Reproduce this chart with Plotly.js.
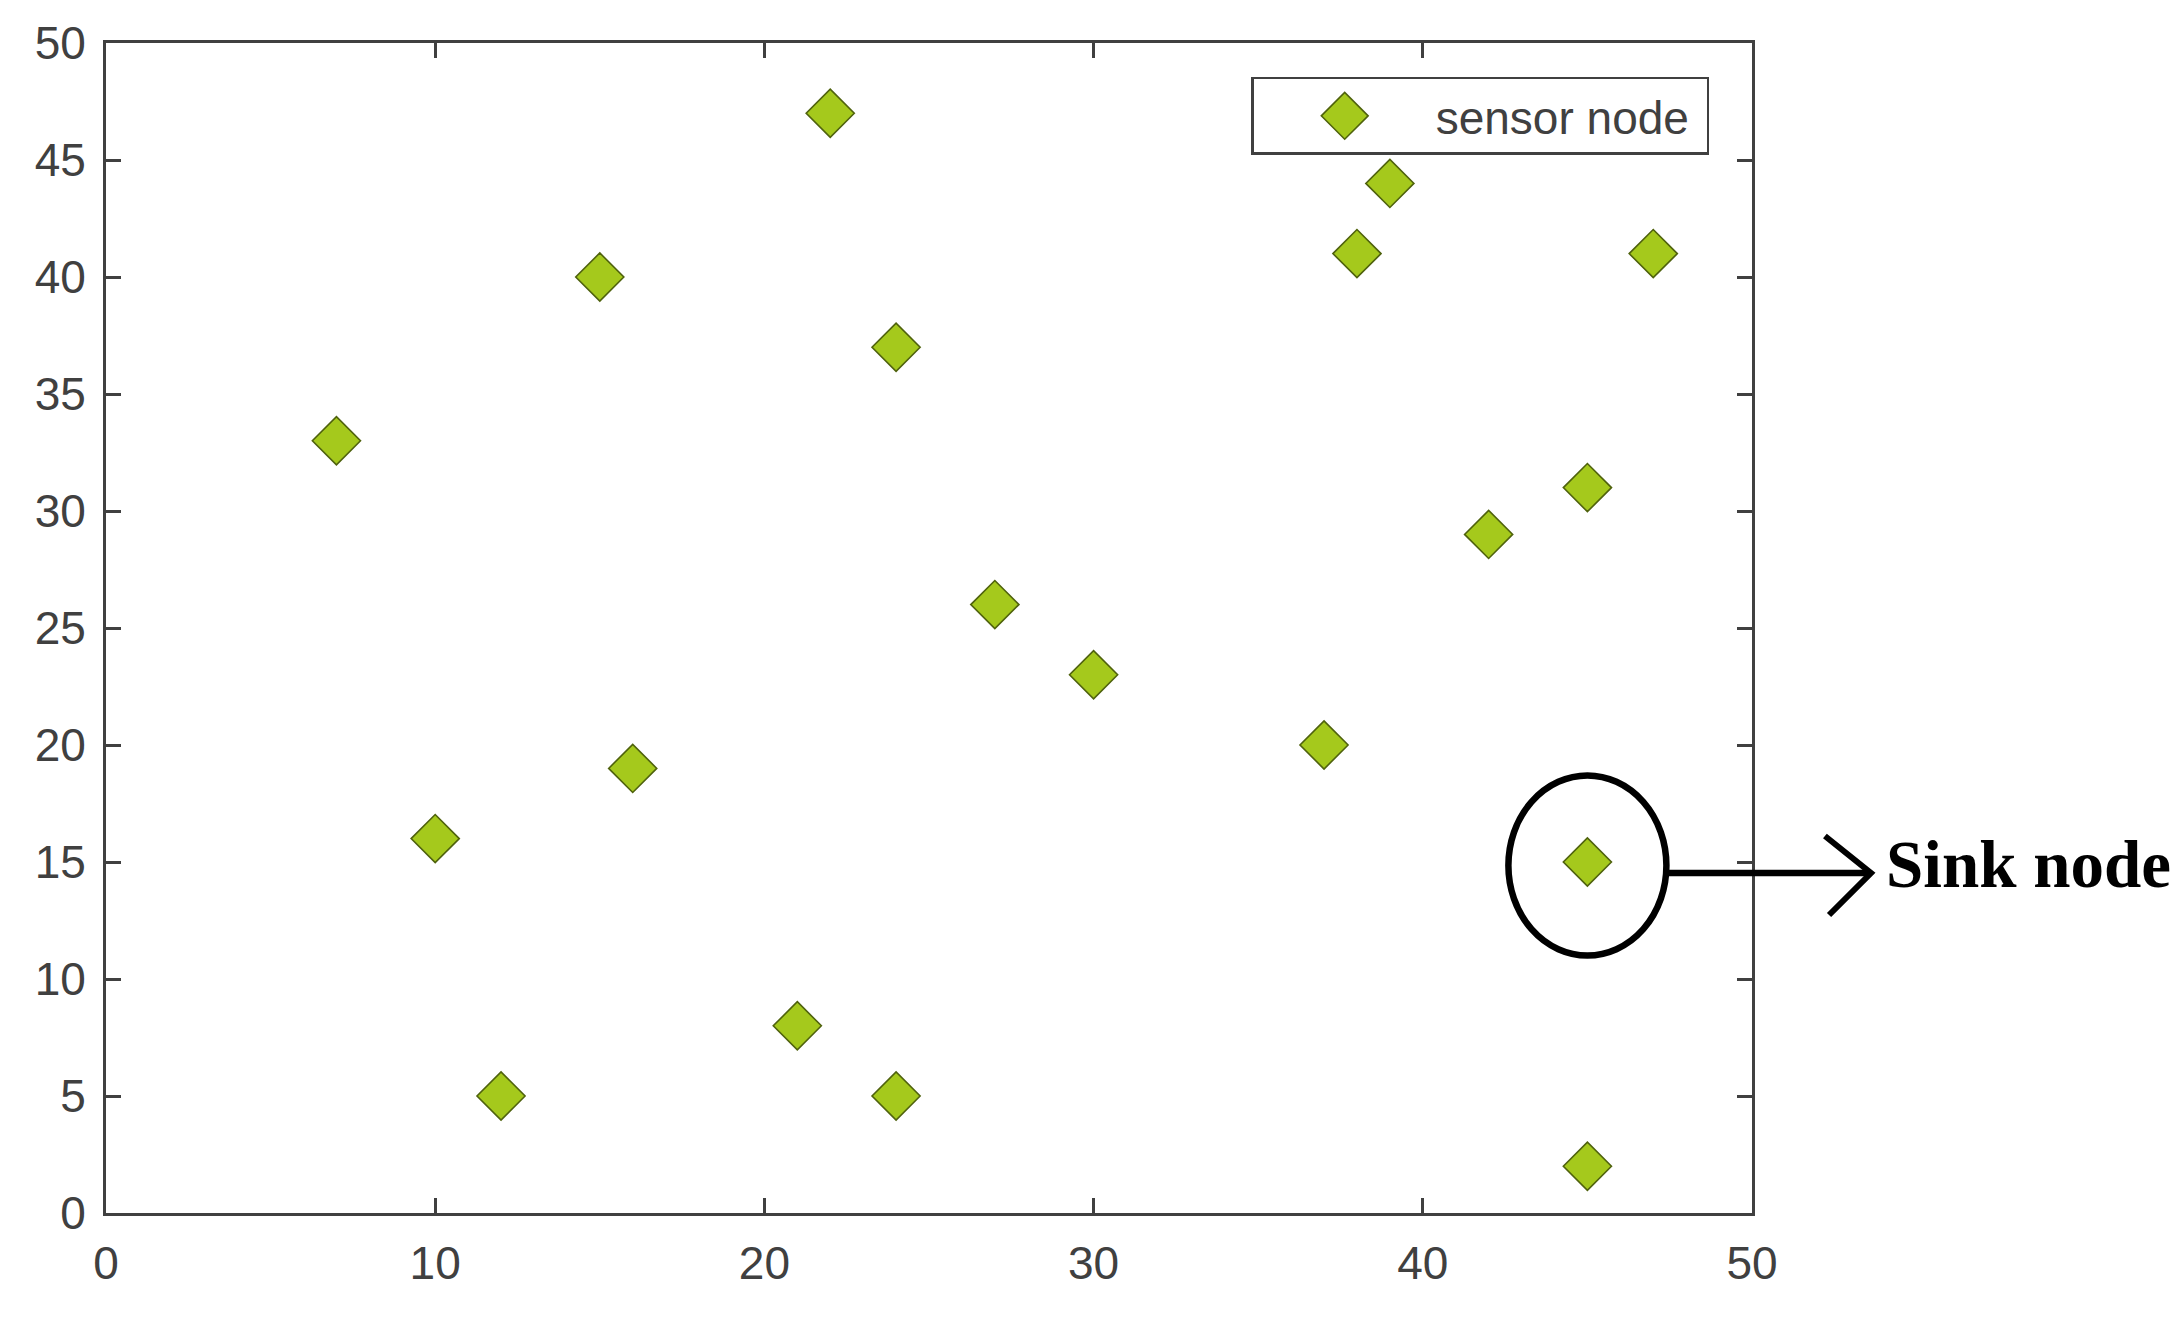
<!DOCTYPE html>
<html>
<head>
<meta charset="utf-8">
<script src="https://cdn.plot.ly/plotly-3.0.1.min.js"></script>
<style>
  body { margin: 0; background: #fff; }
  #nodePlot { width: 2184px; height: 1323px; }
</style>
</head>
<body>
<div id="nodePlot"></div>
<script>
// node positions
var nodeX = [7, 10, 12, 15, 16, 21, 22, 24, 24, 27, 30, 37, 38, 39, 42, 45, 45, 45, 47];
var nodeY = [33, 16, 5, 40, 19, 8, 47, 37, 5, 26, 23, 20, 41, 44, 29, 31, 15, 2, 41];
var sinkX = 45;
var sinkY = 15;

var axisColor = '#404040';

var trace1 = {
  x: nodeX,
  y: nodeY,
  mode: 'markers',
  type: 'scatter',
  name: 'sensor node\u00a0',
  marker: {
    symbol: 'diamond',
    size: 37,
    color: '#a5c91c',
    line: { color: '#4f620d', width: 1.6 }
  }
};

var axisStyle = {
  range: [0, 50],
  showgrid: false,
  zeroline: false,
  showline: true,
  linewidth: 3,
  linecolor: axisColor,
  mirror: 'ticks',
  ticks: 'inside',
  ticklen: 15,
  tickwidth: 3,
  tickcolor: axisColor,
  tickfont: { family: 'Liberation Sans, Arial, sans-serif', size: 46, color: axisColor },
  fixedrange: true
};

var layout = {
  width: 2184,
  height: 1323,
  margin: { l: 106, r: 432, t: 43, b: 110 },
  paper_bgcolor: '#fff',
  plot_bgcolor: '#fff',
  xaxis: Object.assign({}, axisStyle, { dtick: 10, tick0: 0, ticklabelstandoff: 8 }),
  yaxis: Object.assign({}, axisStyle, { dtick: 5, tick0: 0, ticklabelstandoff: 8 }),
  showlegend: true,
  legend: {
    x: 0.974, xanchor: 'right',
    y: 0.971, yanchor: 'top',
    bordercolor: axisColor,
    borderwidth: 2.5,
    bgcolor: '#fff',
    itemwidth: 172,
    font: { family: 'Liberation Sans, Arial, sans-serif', size: 46, color: axisColor }
  },
  shapes: [
    // circle round the sink node
    { type: 'circle', xref: 'x', yref: 'y',
      x0: sinkX - 2.4, x1: sinkX + 2.4, y0: sinkY - 4.0, y1: sinkY + 3.7,
      line: { color: '#000', width: 6.5 } },
    // arrow to the label
    { type: 'line', xref: 'paper', yref: 'paper',
      x0: 0.946, x1: 1.072, y0: 0.2906, y1: 0.2906,
      line: { color: '#000', width: 6.5 } },
    { type: 'path', xref: 'paper', yref: 'paper',
      path: 'M 1.0443 0.3222 L 1.0723 0.2906 L 1.0468 0.2547',
      line: { color: '#000', width: 6 } }
  ],
  annotations: [
    { text: '<b>Sink node</b>', xref: 'paper', yref: 'paper',
      x: 1.08, y: 0.298, xanchor: 'left', yanchor: 'middle',
      showarrow: false,
      font: { family: 'Liberation Serif, Times New Roman, serif', size: 67, color: '#000' } }
  ]
};

Plotly.newPlot('nodePlot', [trace1], layout, { staticPlot: true }).then(function() {
  // plotly caps legend symbols at 16px, the picture has a full size one
  document.querySelectorAll('#nodePlot .legend .scatterpts').forEach(function(p) {
    var t = p.getAttribute('transform') || '';
    p.setAttribute('transform', t + ' scale(2.25)');
    p.style.strokeWidth = '0.7px';
  });
});
</script>
</body>
</html>
